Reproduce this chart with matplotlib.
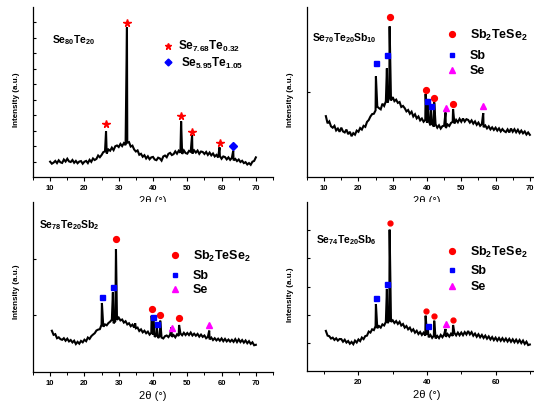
import numpy as np
import matplotlib
matplotlib.use("Agg")
import matplotlib.pyplot as plt
from matplotlib.ticker import MultipleLocator

plt.rcParams["font.family"] = ["Liberation Sans", "DejaVu Sans"]
plt.rcParams["mathtext.fontset"] = "custom"
plt.rcParams["mathtext.rm"] = "Liberation Sans:bold"
plt.rcParams["mathtext.it"] = "Liberation Sans:bold"
plt.rcParams["mathtext.bf"] = "Liberation Sans:bold"

# ---- Se80Te20 : scan 10.0 .. 70.0 every 0.5 deg, then the sharp reflections
se80_start = 10.0
se80_base = [99, 86, 93, 104, 90, 108, 95, 91, 113, 100,
             118, 101, 97, 110, 92, 104, 89, 100, 103, 86,
             99, 104, 90, 111, 98, 120, 110, 117, 139, 128,
             142, 161, 166, 152, 178, 170, 190, 174, 199, 204,
             194, 214, 200, 219, 206, 222, 226, 197, 203, 178,
             165, 172, 144, 150, 131, 141, 120, 134, 115, 127,
             130, 113, 109, 125, 120, 106, 133, 139, 128, 150,
             156, 142, 148, 166, 151, 170, 157, 149, 172, 155,
             151, 169, 163, 152, 172, 158, 171, 150, 165, 162,
             149, 162, 143, 158, 140, 152, 133, 143, 126, 136,
             118, 133, 129, 114, 127, 111, 124, 108, 117, 103,
             113, 97, 105, 90, 96, 81, 90, 79, 99, 104,
             127]
se80_pk_x = [26.3, 32.4, 48.2, 51.4, 59.4, 63.4]
se80_pk_y = [295, 968, 360, 272, 192, 170]
se80_star_x = [26.3, 32.4, 48.2, 51.4, 59.4]
se80_star_y = [343, 994, 397, 289, 218]
se80_dia_x = [63.4]
se80_dia_y = [200]

# ---- Se70Te20Sb10 : scan 10.5 .. 70.0
sb10_start = 10.5
sb10_base = [358, 316, 327, 298, 290, 301, 274, 285, 266,
             290, 268, 262, 279, 252, 266, 240, 258, 249, 273,
             266, 288, 279, 301, 295, 324, 335, 356, 370, 372,
             392, 414, 405, 398, 431, 418, 445, 438, 468, 450,
             470, 446, 455, 436, 441, 412, 418, 405, 386, 394,
             372, 384, 356, 369, 345, 356, 333, 344, 325, 336,
             318, 330, 304, 316, 296, 310, 290, 304, 285, 299,
             302, 288, 309, 300, 318, 325, 314, 336, 322, 342,
             325, 344, 326, 340, 336, 320, 333, 314, 327, 307,
             320, 301, 311, 293, 303, 286, 298, 280, 292, 277,
             290, 273, 286, 268, 282, 270, 264, 280, 262, 285,
             266, 281, 263, 278, 259, 273, 257, 268, 250, 262,
             248]
sb10_pk_x = [25.1, 28.3, 29.1, 39.6, 40.1, 41.1, 42.1, 45.4, 47.6, 56.4]
sb10_pk_y = [592, 639, 886, 488, 459, 420, 439, 380, 400, 376]
sb10_circ_x = [29.1, 39.6, 42.1, 47.6]
sb10_circ_y = [939, 514, 463, 431]
sb10_sq_x = [25.1, 28.3, 40.1, 41.1]
sb10_sq_y = [671, 720, 447, 420]
sb10_tri_x = [45.4, 56.4]
sb10_tri_y = [404, 420]

# ---- Se78Te20Sb2 : scan 10.5 .. 70.0
sb2_start = 10.5
sb2_base = [364, 328, 334, 298, 306, 290, 284, 298, 276,
            294, 270, 282, 261, 276, 247, 266, 250, 274, 262,
            285, 272, 304, 292, 316, 330, 342, 366, 374, 378,
            418, 400, 420, 412, 432, 444, 462, 430, 446, 460,
            480, 455, 463, 436, 448, 420, 430, 404, 418, 392,
            386, 392, 362, 376, 350, 364, 342, 356, 330, 345,
            330, 310, 322, 300, 318, 304, 296, 316, 322, 308,
            330, 310, 326, 306, 332, 318, 340, 324, 346, 326,
            344, 326, 348, 322, 338, 320, 336, 312, 330, 310,
            322, 298, 310, 288, 304, 282, 298, 279, 294, 276,
            296, 272, 292, 270, 286, 268, 284, 266, 290, 264,
            288, 264, 282, 259, 278, 254, 272, 248, 262, 236,
            240]
sb2_pk_x = [25.1, 28.3, 29.2, 34.8, 39.6, 40.1, 41.1, 42.1, 45.4, 47.6, 56.4]
sb2_pk_y = [609, 703, 1085, 430, 497, 450, 394, 453, 394, 415, 365]
sb2_circ_x = [29.2, 39.6, 42.1, 47.6]
sb2_circ_y = [1173, 556, 503, 474]
sb2_sq_x = [25.1, 28.3, 40.1, 41.1]
sb2_sq_y = [662, 753, 485, 421]
sb2_tri_x = [45.4, 56.4]
sb2_tri_y = [391, 415]

# ---- Se74Te20Sb6 : scan 10.5 .. 70.0
sb6_start = 10.5
sb6_base = [712, 628, 618, 576, 592, 552, 580, 540, 568,
            566, 520, 555, 505, 532, 484, 516, 476, 540, 506,
            560, 530, 594, 566, 620, 628, 700, 682, 740, 726,
            796, 760, 798, 770, 828, 808, 872, 850, 898, 872,
            900, 852, 886, 836, 874, 808, 834, 770, 798, 740,
            770, 708, 740, 680, 714, 656, 692, 640, 680, 628,
            650, 598, 640, 588, 628, 578, 622, 584, 640, 600,
            650, 606, 656, 612, 662, 622, 674, 632, 682, 634,
            682, 636, 690, 648, 710, 650, 690, 626, 664, 608,
            652, 598, 640, 586, 628, 574, 614, 560, 602, 548,
            592, 540, 586, 536, 582, 532, 576, 524, 570, 518,
            562, 510, 556, 504, 550, 496, 540, 480, 520, 460,
            470]
sb6_pk_x = [25.1, 28.3, 29.1, 39.6, 40.2, 42.1, 45.4, 47.6]
sb6_pk_y = [1189, 1456, 2509, 982, 760, 893, 746, 817]
sb6_circ_x = [29.1, 39.6, 42.1, 47.6]
sb6_circ_y = [2621, 1071, 976, 911]
sb6_sq_x = [25.1, 28.3, 40.2]
sb6_sq_y = [1290, 1550, 793]
sb6_tri_x = [45.4]
sb6_tri_y = [834]

RED, BLUE, MAG = "#ff0000", "#0000ff", "#ff00ff"
W, H = 534, 406


def pattern(ax, start, base, pk_x, pk_y):
    gx = start + 0.5 * np.arange(len(base))
    x = np.concatenate([gx, pk_x]); y = np.concatenate([base, pk_y])
    o = np.argsort(x)
    ax.plot(x[o], y[o], color="black", lw=1.5, solid_joinstyle="miter")


def frame(ax, ylim, yticks, major=10, minor=5):
    ax.set_xlim(5, 75); ax.set_ylim(*ylim)
    for s in ("top", "right"):
        ax.spines[s].set_visible(False)
    for s in ("left", "bottom"):
        ax.spines[s].set_linewidth(0.9)
    ax.xaxis.set_minor_locator(MultipleLocator(minor))
    ax.set_xticks(list(range(major if major > 10 else 10, 71, major)))
    ax.tick_params(axis="x", which="major", direction="out", length=3, width=0.8,
                   labelsize=5.5, pad=2)
    ax.tick_params(axis="x", which="minor", direction="out", length=1.8, width=0.7)
    for lab in ax.get_xticklabels():
        lab.set_fontweight("bold")
    ax.set_yticks(yticks)
    ax.tick_params(axis="y", direction="in", length=2.5, width=0.8, labelleft=False)
    ax.set_ylabel("Intensity (a.u.)", fontsize=5.8, fontweight="bold")
    ax.set_xlabel("2θ (°)", fontsize=8, labelpad=3)


def legend3(ax, mx, tx, ys, ms=4.2, fs=9):
    ax.plot([mx], [ys[0]], "o", color=RED, ms=ms)
    ax.plot([mx], [ys[1]], "s", color=BLUE, ms=ms * 0.85)
    ax.plot([mx], [ys[2]], "^", color=MAG, ms=ms)
    ax.text(tx, ys[0], r"$Sb_2TeSe_2$", fontsize=fs, va="center")
    ax.text(tx, ys[1], "Sb", fontsize=fs, fontweight="bold", va="center")
    ax.text(tx, ys[2], "Se", fontsize=fs, fontweight="bold", va="center")


fig = plt.figure(figsize=(W / 100, H / 100), dpi=100)
ax1 = fig.add_axes([33 / W, 228 / H, 240 / W, 170 / H])
ax2 = fig.add_axes([307 / W, 228 / H, 240 / W, 170 / H])
ax3 = fig.add_axes([33 / W, 33 / H, 240 / W, 170 / H])
ax4 = fig.add_axes([307 / W, 34 / H, 240 / W, 169 / H])

# panel 1
pattern(ax1, se80_start, se80_base, se80_pk_x, se80_pk_y)
ax1.plot(se80_star_x, se80_star_y, "*", color=RED, ms=5.5, ls="none")
ax1.plot(se80_dia_x, se80_dia_y, "D", color=BLUE, ms=4, ls="none")
frame(ax1, (0, 1100), range(100, 1001, 100))
ax1.text(10.6, 893, r"$Se_{80}Te_{20}$", fontsize=7.5, va="center")
ax1.plot([44.4], [848], "*", color=RED, ms=5)
ax1.plot([44.4], [744], "D", color=BLUE, ms=3.5)
ax1.text(47.3, 848, r"$Se_{7.68}Te_{0.32}$", fontsize=8.5, va="center")
ax1.text(48.2, 744, r"$Se_{5.95}Te_{1.05}$", fontsize=8.5, va="center")

# panel 2
pattern(ax2, sb10_start, sb10_base, sb10_pk_x, sb10_pk_y)
ax2.plot(sb10_circ_x, sb10_circ_y, "o", color=RED, ms=4.2, ls="none")
ax2.plot(sb10_sq_x, sb10_sq_y, "s", color=BLUE, ms=3.6, ls="none")
ax2.plot(sb10_tri_x, sb10_tri_y, "^", color=MAG, ms=4.5, ls="none")
frame(ax2, (0, 1000), [500])
ax2.text(6.5, 824, r"$Se_{70}Te_{20}Sb_{10}$", fontsize=7.5, va="center")
legend3(ax2, 47.4, 52.4, [841, 718, 629])

# panel 3
pattern(ax3, sb2_start, sb2_base, sb2_pk_x, sb2_pk_y)
ax3.plot(sb2_circ_x, sb2_circ_y, "o", color=RED, ms=4.2, ls="none")
ax3.plot(sb2_sq_x, sb2_sq_y, "s", color=BLUE, ms=3.6, ls="none")
ax3.plot(sb2_tri_x, sb2_tri_y, "^", color=MAG, ms=4.5, ls="none")
frame(ax3, (0, 1500), [500, 1000])
ax3.text(6.8, 1306, r"$Se_{78}Te_{20}Sb_2$", fontsize=7.5, va="center")
legend3(ax3, 46.3, 51.6, [1032, 856, 732])

# panel 4
pattern(ax4, sb6_start, sb6_base, sb6_pk_x, sb6_pk_y)
ax4.plot(sb6_circ_x, sb6_circ_y, "o", color=RED, ms=3.5, ls="none")
ax4.plot(sb6_sq_x, sb6_sq_y, "s", color=BLUE, ms=3.6, ls="none")
ax4.plot(sb6_tri_x, sb6_tri_y, "^", color=MAG, ms=4.5, ls="none")
frame(ax4, (0, 3000), range(500, 2501, 500), major=20, minor=10)
ax4.text(7.6, 2343, r"$Se_{74}Te_{20}Sb_6$", fontsize=7.5, va="center")
legend3(ax4, 47.4, 52.6, [2130, 1793, 1509])

for ax, yc in ((ax1, 0.46), (ax2, 0.46), (ax3, 0.48), (ax4, 0.46)):
    ax.yaxis.set_label_coords(-0.053, yc)

fig.savefig("out.png", dpi=100)
